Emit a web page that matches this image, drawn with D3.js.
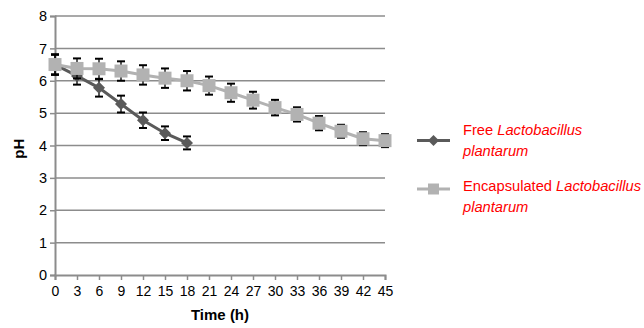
<!DOCTYPE html>
<html>
<head>
<meta charset="utf-8">
<script src="https://cdn.jsdelivr.net/npm/d3@7"></script>
<style>
  body { margin: 0; background: #fff; }
  svg { font-family: "Liberation Sans", Arial, sans-serif; }
</style>
</head>
<body>
<div id="chart"></div>
<script>
// Data
const timeFree = [0, 3, 6, 9, 12, 15, 18];
const phFree = [6.5, 6.15, 5.78, 5.28, 4.78, 4.38, 4.08];
const errFree = [0.32, 0.27, 0.27, 0.26, 0.24, 0.21, 0.2];

const timeEnc = [0, 3, 6, 9, 12, 15, 18, 21, 24, 27, 30, 33, 36, 39, 42, 45];
const phEnc = [6.5, 6.38, 6.37, 6.3, 6.18, 6.08, 6.0, 5.85, 5.63, 5.4, 5.17, 4.96, 4.69, 4.44, 4.21, 4.15];
const errEnc = [0.3, 0.31, 0.31, 0.3, 0.3, 0.3, 0.3, 0.28, 0.28, 0.26, 0.24, 0.22, 0.22, 0.2, 0.2, 0.2];

const xTicks = d3.range(0, 46, 3);
const yTicks = [0, 1, 2, 3, 4, 5, 6, 7, 8];

const width = 644, height = 328;
const margin = { left: 55, right: 260, top: 16, bottom: 53 };

const svg = d3.select('#chart')
  .append('svg')
  .attr('width', width)
  .attr('height', height);

const x = d3.scaleLinear().domain([0, 45]).range([margin.left, width - margin.right + 1]);
const y = d3.scaleLinear().domain([0, 8]).range([height - margin.bottom, margin.top]);

const gridColor = '#8c8c8c';
const font = '"Liberation Sans", Arial, sans-serif';

// Horizontal gridlines
svg.append('g')
  .selectAll('line')
  .data(yTicks.filter(d => d > 0))
  .join('line')
  .attr('x1', x(0))
  .attr('x2', x(45))
  .attr('y1', d => y(d))
  .attr('y2', d => y(d))
  .attr('stroke', gridColor)
  .attr('stroke-width', 1.5);

// Y axis
const yAxis = svg.append('g')
  .attr('transform', `translate(${x(0)},0)`)
  .call(d3.axisLeft(y).tickValues(yTicks).tickSize(5).tickPadding(3));
yAxis.select('.domain').attr('stroke', gridColor).attr('stroke-width', 2);
yAxis.selectAll('.tick line').attr('stroke', gridColor).attr('stroke-width', 1.5);
yAxis.selectAll('.tick text')
  .attr('font-size', 14.5)
  .attr('fill', '#000')
  .attr('font-family', font);

// X axis
const xAxis = svg.append('g')
  .attr('transform', `translate(0,${y(0)})`)
  .call(d3.axisBottom(x).tickValues(xTicks).tickSize(5).tickPadding(6));
xAxis.select('.domain').attr('stroke', gridColor).attr('stroke-width', 2);
xAxis.selectAll('.tick line').attr('stroke', gridColor).attr('stroke-width', 1.5);
xAxis.selectAll('.tick text')
  .attr('font-size', 14)
  .attr('fill', '#000')
  .attr('font-family', font);

// Axis titles
svg.append('text')
  .attr('x', x(22.5))
  .attr('y', 320)
  .attr('text-anchor', 'middle')
  .attr('font-size', 15)
  .attr('font-weight', 'bold')
  .text('Time (h)');

svg.append('text')
  .attr('transform', `translate(24,${y(3.9)}) rotate(-90)`)
  .attr('text-anchor', 'middle')
  .attr('font-size', 15)
  .attr('font-weight', 'bold')
  .text('pH');

const line = d3.line().x(d => x(d[0])).y(d => y(d[1]));

function drawSeries(times, vals, errs, color, shape) {
  const pts = times.map((t, i) => [t, vals[i], errs[i]]);
  const g = svg.append('g');
  g.append('path')
    .datum(pts)
    .attr('d', line)
    .attr('fill', 'none')
    .attr('stroke', color)
    .attr('stroke-width', 3);

  // Error bars
  const eb = g.append('g').selectAll('g').data(pts).join('g');
  eb.append('line')
    .attr('x1', d => x(d[0])).attr('x2', d => x(d[0]))
    .attr('y1', d => y(d[1] + d[2])).attr('y2', d => y(d[1] - d[2]))
    .attr('stroke', '#000').attr('stroke-width', 1.3);
  [1, -1].forEach(s => {
    eb.append('line')
      .attr('x1', d => x(d[0]) - 4).attr('x2', d => x(d[0]) + 4)
      .attr('y1', d => y(d[1] + s * d[2])).attr('y2', d => y(d[1] + s * d[2]))
      .attr('stroke', '#000').attr('stroke-width', 2);
  });

  // Markers
  g.append('g').selectAll('path')
    .data(pts)
    .join('path')
    .attr('transform', d => `translate(${x(d[0])},${y(d[1])})`)
    .attr('d', shape)
    .attr('fill', color);
}

const diamond = 'M0,-6L6,0L0,6L-6,0Z';
const square = 'M-6.5,-6.5H6.5V6.5H-6.5Z';

drawSeries(timeFree, phFree, errFree, '#5a5a5a', diamond);
drawSeries(timeEnc, phEnc, errEnc, '#b2b2b2', square);

// Legend
const legend = [
  { color: '#5a5a5a', shape: 'M0,-5.5L5.5,0L0,5.5L-5.5,0Z', lineY: 140.5, textY: 135, lines: [['Free ', 'Lactobacillus'], ['', 'plantarum']] },
  { color: '#b2b2b2', shape: 'M-5.5,-5.5H5.5V5.5H-5.5Z', lineY: 189, textY: 191, lines: [['Encapsulated ', 'Lactobacillus'], ['', 'plantarum']] }
];
const leg = svg.append('g');
legend.forEach(item => {
  leg.append('line')
    .attr('x1', 417).attr('x2', 450)
    .attr('y1', item.lineY).attr('y2', item.lineY)
    .attr('stroke', item.color).attr('stroke-width', 3);
  leg.append('path')
    .attr('transform', `translate(433.5,${item.lineY})`)
    .attr('d', item.shape)
    .attr('fill', item.color);
  item.lines.forEach((ln, i) => {
    const t = leg.append('text')
      .attr('x', 463)
      .attr('y', item.textY + i * 20.5)
      .attr('font-size', 14.7)
      .attr('fill', '#ff0000');
    if (ln[0]) t.append('tspan').text(ln[0]);
    t.append('tspan').attr('font-style', 'italic').text(ln[1]);
  });
});
</script>
</body>
</html>
